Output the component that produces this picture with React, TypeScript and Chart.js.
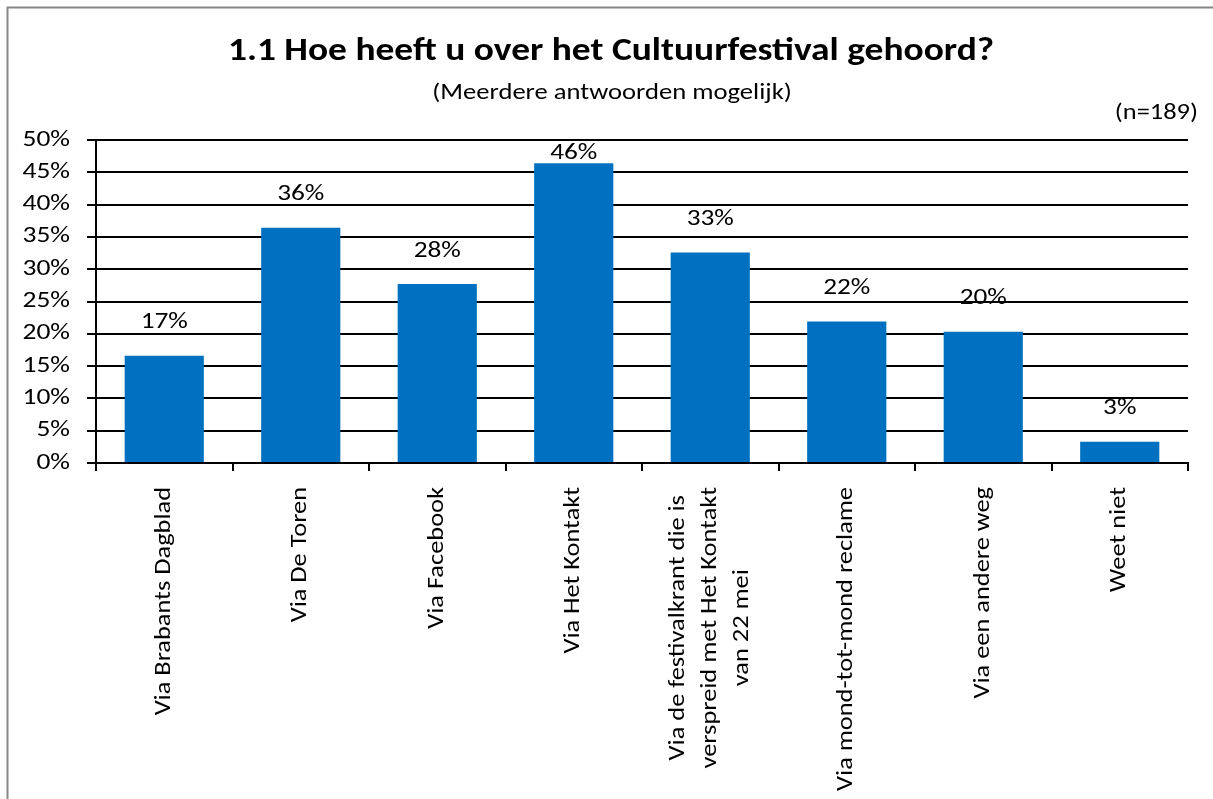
import React, { useEffect, useRef } from "react";
import { Chart, registerables } from "chart.js";

Chart.register(...registerables);

const categories: string[][] = [
  ["Via Brabants Dagblad"],
  ["Via De Toren"],
  ["Via Facebook"],
  ["Via Het Kontakt"],
  ["Via de festivalkrant die is", "verspreid met Het Kontakt", "van 22 mei"],
  ["Via mond-tot-mond reclame"],
  ["Via een andere weg"],
  ["Weet niet"],
];
const percentages: number[] = [16.6, 36.4, 27.7, 46.4, 32.6, 21.9, 20.3, 3.3];
const yTickMin = 0;
const yTickMax = 50;
const yTickStep = 5;
const titleText = "1.1 Hoe heeft u over het Cultuurfestival gehoord?";
const subtitleText = "(Meerdere antwoorden mogelijk)";
const sampleText = "(n=189)";

const FONT = 'Carlito, Calibri, Lato, "Open Sans", sans-serif';
const W = 1213;
const H = 799;

function stretchText(
  ctx: CanvasRenderingContext2D,
  text: string,
  x: number,
  y: number,
  sx: number,
  align: CanvasTextAlign
) {
  ctx.save();
  ctx.translate(x, y);
  ctx.scale(sx, 1);
  ctx.textAlign = align;
  ctx.fillText(text, 0, 0);
  ctx.restore();
}

export default function App() {
  const ref = useRef<HTMLCanvasElement | null>(null);

  useEffect(() => {
    const canvas = ref.current;
    if (!canvas) return;

    const decor = {
      id: "decor",
      afterDraw(chart: any) {
        const ctx = chart.ctx as CanvasRenderingContext2D;
        const area = chart.chartArea;
        ctx.save();
        // outer frame (top + left visible)
        ctx.strokeStyle = "#878787";
        ctx.lineWidth = 2;
        ctx.beginPath();
        ctx.moveTo(7.5, H + 5);
        ctx.lineTo(7.5, 7.5);
        ctx.lineTo(W + 5, 7.5);
        ctx.stroke();

        ctx.fillStyle = "#000";
        ctx.textBaseline = "middle";
        ctx.font = `bold 32px ${FONT}`;
        stretchText(ctx, titleText, 611, 52, 1.17, "center");
        ctx.font = `22px ${FONT}`;
        stretchText(ctx, subtitleText, 612, 93, 1.21, "center");
        stretchText(ctx, sampleText, 1198, 113, 1.2, "right");

        // y tick labels
        const ys = chart.scales.y;
        ys.ticks.forEach((t: any) => {
          stretchText(ctx, `${t.value}%`, area.left - 26, ys.getPixelForValue(t.value), 1.25, "right");
        });

        // data labels
        const meta = chart.getDatasetMeta(0);
        meta.data.forEach((bar: any, i: number) => {
          const v = percentages[i];
          let y = bar.y - 33;
          if (y < area.top + 13) y = area.top + 13;
          stretchText(ctx, `${Math.round(v)}%`, bar.x, y, 1.24, "center");
        });

        // x labels (rotated, centered lines)
        const xs = chart.scales.x;
        const lineH = 32;
        const sx = 1.2;
        categories.forEach((lines, i) => {
          const x = xs.getPixelForTick(i);
          const widths = lines.map((l) => ctx.measureText(l).width);
          const bw = Math.max(...widths);
          ctx.save();
          ctx.translate(x, area.bottom + 24);
          ctx.rotate(-Math.PI / 2);
          ctx.scale(sx, 1);
          ctx.textAlign = "center";
          ctx.textBaseline = "middle";
          lines.forEach((l, j) => {
            const off = (j - (lines.length - 1) / 2) * lineH;
            ctx.fillText(l, -bw / 2, off);
          });
          ctx.restore();
        });
        ctx.restore();
      },
    };

    const chart = new Chart(canvas, {
      type: "bar",
      data: {
        labels: categories.map((c) => c.join(" ")),
        datasets: [
          {
            data: percentages,
            backgroundColor: "#0070C0",
            borderWidth: 0,
            categoryPercentage: 1,
            barPercentage: 0.58,
          },
        ],
      },
      options: {
        responsive: false,
        animation: false,
        devicePixelRatio: 1,
        layout: { padding: { top: 140, right: 25, left: 0, bottom: 0 } },
        plugins: {
          legend: { display: false },
          tooltip: { enabled: false },
          title: { display: false },
        },
        scales: {
          x: {
            offset: true,
            grid: {
              offset: true,
              drawOnChartArea: false,
              drawTicks: true,
              tickLength: 8,
              color: "#000",
              lineWidth: 2,
            },
            border: { display: true, color: "#000", width: 2 },
            ticks: { display: false },
            afterFit: (s: any) => {
              s.height = 336;
            },
          },
          y: {
            min: yTickMin,
            max: yTickMax,
            ticks: {
              stepSize: yTickStep,
              display: false,
            },
            grid: {
              color: "#000",
              lineWidth: 2,
              tickLength: 9,
              drawTicks: true,
            },
            border: { display: true, color: "#000", width: 2 },
            afterFit: (s: any) => {
              s.width = 96;
            },
          },
        },
      },
      plugins: [decor],
    });

    return () => chart.destroy();
  }, []);

  return (
    <div style={{ position: "fixed", left: 0, top: 0, width: W, height: H, background: "#fff" }}>
      <canvas ref={ref} width={W} height={H} style={{ display: "block", width: W, height: H }} />
    </div>
  );
}
